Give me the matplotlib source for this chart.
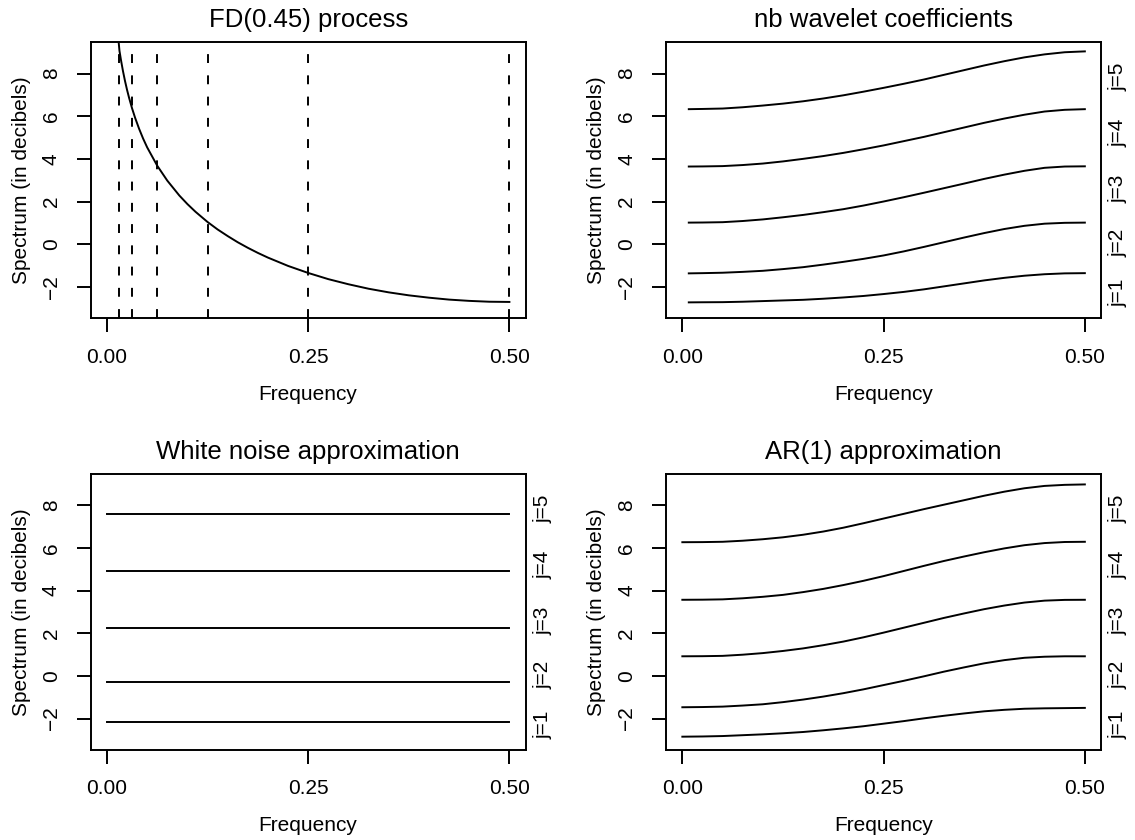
import matplotlib
matplotlib.use("Agg")
import matplotlib.pyplot as plt

plt.rcParams["font.family"] = ["Liberation Sans", "DejaVu Sans"]
plt.rcParams["lines.scale_dashes"] = False

# --- values ---
fd_freq = [0.0146, 0.0156, 0.0175, 0.02, 0.0225, 0.025, 0.0275, 0.03125, 0.035,
           0.04, 0.045, 0.05, 0.0625, 0.075, 0.09, 0.10, 0.11, 0.125, 0.1375,
           0.15, 0.1625, 0.175, 0.1875, 0.20, 0.225, 0.25, 0.275, 0.30, 0.325,
           0.35, 0.375, 0.40, 0.425, 0.45, 0.475, 0.50]
fd_spec = [9.48, 9.07, 8.63, 8.11, 7.65, 7.24, 6.87, 6.37, 5.93,
           5.41, 4.95, 4.54, 3.68, 2.98, 2.28, 1.88, 1.52, 1.04, 0.69,
           0.38, 0.09, -0.17, -0.41, -0.63, -1.02, -1.35, -1.64, -1.88, -2.09,
           -2.26, -2.40, -2.51, -2.60, -2.66, -2.70, -2.71]
octave_edges = [1 / 64, 1 / 32, 1 / 16, 1 / 8, 1 / 4, 1 / 2]

nb_freq = [0.008, 0.025, 0.05, 0.075, 0.10, 0.125, 0.15, 0.175, 0.20, 0.225, 0.25,
           0.275, 0.30, 0.325, 0.35, 0.375, 0.40, 0.425, 0.45, 0.475, 0.50]
nb_j1 = [-2.73, -2.725, -2.72, -2.70, -2.67, -2.64, -2.61, -2.56, -2.50, -2.43, -2.34,
         -2.24, -2.12, -1.98, -1.84, -1.70, -1.58, -1.48, -1.41, -1.37, -1.36]
nb_j2 = [-1.37, -1.36, -1.34, -1.30, -1.25, -1.17, -1.08, -0.96, -0.83, -0.69, -0.53,
         -0.34, -0.13, 0.09, 0.31, 0.52, 0.71, 0.86, 0.96, 1.00, 1.01]
nb_j3 = [1.01, 1.015, 1.03, 1.085, 1.16, 1.26, 1.37, 1.50, 1.64, 1.81, 2.00,
         2.20, 2.41, 2.625, 2.84, 3.06, 3.26, 3.44, 3.58, 3.64, 3.65]
nb_j4 = [3.64, 3.645, 3.66, 3.71, 3.78, 3.88, 4.00, 4.13, 4.28, 4.45, 4.63,
         4.83, 5.03, 5.25, 5.47, 5.69, 5.89, 6.07, 6.22, 6.30, 6.33]
nb_j5 = [6.33, 6.34, 6.36, 6.42, 6.50, 6.59, 6.70, 6.83, 6.98, 7.15, 7.33,
         7.52, 7.72, 7.94, 8.16, 8.38, 8.58, 8.76, 8.90, 9.00, 9.04]

wn_freq = [0.0, 0.5]
wn_levels = [-2.18, -0.28, 2.24, 4.91, 7.61]

ar_freq = [0.0, 0.025, 0.05, 0.075, 0.10, 0.125, 0.15, 0.175, 0.20, 0.225, 0.25,
           0.275, 0.30, 0.325, 0.35, 0.375, 0.40, 0.425, 0.45, 0.475, 0.50]
ar_j1 = [-2.85, -2.84, -2.82, -2.78, -2.74, -2.69, -2.63, -2.55, -2.46, -2.36, -2.24,
         -2.12, -1.99, -1.87, -1.76, -1.66, -1.59, -1.54, -1.52, -1.51, -1.50]
ar_j2 = [-1.47, -1.46, -1.44, -1.39, -1.33, -1.23, -1.11, -0.97, -0.81, -0.63, -0.43,
         -0.23, -0.02, 0.20, 0.40, 0.59, 0.74, 0.85, 0.90, 0.92, 0.92]
ar_j3 = [0.92, 0.925, 0.94, 0.995, 1.07, 1.17, 1.29, 1.44, 1.61, 1.81, 2.03,
         2.26, 2.49, 2.72, 2.93, 3.13, 3.30, 3.44, 3.53, 3.565, 3.57]
ar_j4 = [3.57, 3.575, 3.59, 3.64, 3.71, 3.80, 3.93, 4.08, 4.26, 4.46, 4.68,
         4.92, 5.16, 5.39, 5.60, 5.80, 5.98, 6.13, 6.23, 6.28, 6.29]
ar_j5 = [6.27, 6.275, 6.29, 6.34, 6.41, 6.50, 6.62, 6.77, 6.95, 7.16, 7.38,
         7.60, 7.82, 8.03, 8.24, 8.45, 8.64, 8.80, 8.91, 8.96, 8.98]

level_names = ["j=1", "j=2", "j=3", "j=4", "j=5"]
level_label_pos = [-2.3, 0.05, 2.6, 5.2, 7.85]

x_ticks = [0.0, 0.25, 0.5]
x_tick_labels = ["0.00", "0.25", "0.50"]
y_ticks = [-2, 0, 2, 4, 6, 8]

LW = 1.4


def setup(ax, title, with_levels=False):
    ax.set_xlim(-0.02, 0.52)
    ax.set_ylim(-3.48, 9.48)
    ax.set_xticks(x_ticks)
    ax.set_xticklabels(x_tick_labels)
    ax.set_yticks(y_ticks)
    ax.set_yticklabels([str(v).replace("-", "\u2212") for v in y_ticks],
                       rotation=90, va="center")
    ax.tick_params(axis="both", direction="out", length=10, width=LW, labelsize=15)
    ax.tick_params(axis="x", pad=11)
    ax.tick_params(axis="y", pad=11.5)
    for s in ax.spines.values():
        s.set_linewidth(LW)
    ax.set_title(title, fontsize=18.5, pad=10.5)
    ax.set_xlabel("Frequency", fontsize=15, labelpad=13)
    ax.set_ylabel("Spectrum (in decibels)", fontsize=15, labelpad=8)
    if with_levels:
        trans = ax.get_yaxis_transform()
        for name, pos in zip(level_names, level_label_pos):
            ax.text(1.04, pos, name, transform=trans, rotation=90,
                    ha="center", va="center", fontsize=15)


fig = plt.figure(figsize=(11.35, 8.4), dpi=100)
w, h = 0.383, 0.329
ax_fd = fig.add_axes([0.080, 0.621, w, h])
ax_nb = fig.add_axes([0.587, 0.621, w, h])
ax_wn = fig.add_axes([0.080, 0.107, w, h])
ax_ar = fig.add_axes([0.587, 0.107, w, h])

# FD(0.45) spectrum with octave band edges
ax_fd.plot(fd_freq, fd_spec, color="black", lw=LW)
for edge in octave_edges:
    ax_fd.axvline(edge, color="black", lw=LW, linestyle=(0, (6.4, 8.9)))
setup(ax_fd, "FD(0.45) process")

for series in [nb_j1, nb_j2, nb_j3, nb_j4, nb_j5]:
    ax_nb.plot(nb_freq, series, color="black", lw=LW)
setup(ax_nb, "nb wavelet coefficients", with_levels=True)

for lev in wn_levels:
    ax_wn.plot(wn_freq, [lev, lev], color="black", lw=LW)
setup(ax_wn, "White noise approximation", with_levels=True)

for series in [ar_j1, ar_j2, ar_j3, ar_j4, ar_j5]:
    ax_ar.plot(ar_freq, series, color="black", lw=LW)
setup(ax_ar, "AR(1) approximation", with_levels=True)

fig.savefig("out.png", dpi=100)
